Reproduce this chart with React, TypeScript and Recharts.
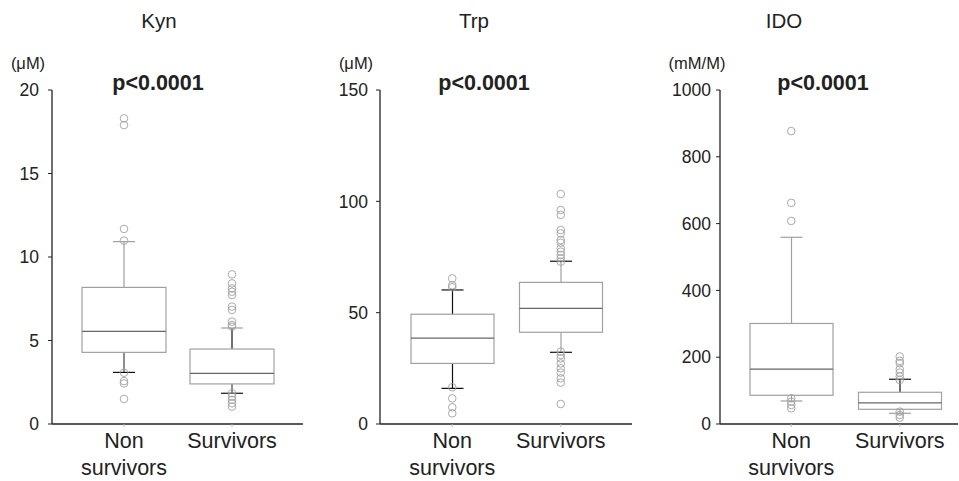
import { Bar, ComposedChart, Scatter, XAxis, YAxis } from 'recharts'

const groups = ['Non survivors', 'Survivors']

// [Q1, median, Q3] per group
const kynQuartiles = [[4.29, 5.55, 8.18], [2.4, 3.03, 4.49]]
const kynWhiskers = [[3.09, 10.92], [1.84, 5.75]]
const kynOutliers = [
  [18.3, 17.9, 11.68, 10.98, 3.07, 2.57, 2.43, 1.5],
  [8.96, 8.42, 8.12, 7.92, 7.72, 7.03, 6.83, 6.13, 5.93, 5.83, 1.84, 1.64, 1.44, 1.24, 1.04],
]
const kynTicks = [0, 5, 10, 15, 20]

const trpQuartiles = [[27.2, 38.6, 49.3], [41.2, 51.9, 63.6]]
const trpWhiskers = [[16.0, 60.2], [32.2, 73.1]]
const trpOutliers = [
  [65.4, 62.3, 61.4, 16.5, 11.5, 7.5, 4.8],
  [103.3, 96.1, 93.9, 87.1, 85.6, 82.6, 81.4, 78.9, 77.4, 75.9, 74.4, 72.9,
    32.5, 31.0, 29.5, 27.2, 25.0, 23.1, 20.5, 18.6, 9.0],
]
const trpTicks = [0, 50, 100, 150]

const idoQuartiles = [[86, 164, 301], [44, 63, 95]]
const idoWhiskers = [[69, 559], [32, 134]]
const idoOutliers = [
  [877, 662, 608, 77, 67, 57, 47],
  [202, 189, 182, 164, 154, 142, 132, 37, 27, 19],
]
const idoTicks = [0, 200, 400, 600, 800, 1000]

const FONT = '"Liberation Sans", Arial, sans-serif'
const INK = '#222'
const GREY = '#a0a0a0'

function boxRows(quartiles: number[][], whiskers: number[][]) {
  return groups.map((cat, i) => ({
    cat,
    q1: quartiles[i][0],
    med: quartiles[i][1],
    q3: quartiles[i][2],
    lo: whiskers[i][0],
    hi: whiskers[i][1],
  }))
}

function outlierRows(outliers: number[][]) {
  return outliers.flatMap((vals, i) => vals.map((value) => ({ cat: groups[i], value })))
}

// whisker colours as printed: [upper stem, upper cap, lower stem, lower cap]
type WhiskerInk = [string, string, string, string]

function makeBoxShape(inks: WhiskerInk[]) {
  return function BoxShape(props: any) {
    const { x, y, width, height, payload, index } = props
    const top = Math.min(y, y + height)
    const bottom = Math.max(y, y + height)
    const { lo, hi, q1, med, q3 } = payload
    const py = (v: number) => bottom - ((v - lo) / (hi - lo)) * (bottom - top)
    const cx = x + width / 2
    const cap = 11
    const ink = inks[index] ?? [GREY, GREY, GREY, GREY]
    return (
      <g>
        <line x1={cx} x2={cx} y1={py(hi)} y2={py(q3)} stroke={ink[0]} strokeWidth={1.2} />
        <line x1={cx - cap} x2={cx + cap} y1={py(hi)} y2={py(hi)} stroke={ink[1]} strokeWidth={1.2} />
        <line x1={cx} x2={cx} y1={py(q1)} y2={py(lo)} stroke={ink[2]} strokeWidth={1.2} />
        <line x1={cx - cap} x2={cx + cap} y1={py(lo)} y2={py(lo)} stroke={ink[3]} strokeWidth={1.2} />
        <rect x={x} y={py(q3)} width={width} height={py(q1) - py(q3)} fill="#fff" stroke={GREY} strokeWidth={1.2} />
        <line x1={x} x2={x + width} y1={py(med)} y2={py(med)} stroke="#666" strokeWidth={1.2} />
      </g>
    )
  }
}

function Outlier(props: any) {
  const { cx, cy } = props
  return <circle cx={cx} cy={cy} r={3.8} fill="none" stroke={GREY} strokeWidth={0.9} />
}

function GroupTick(props: any) {
  const { x, y, payload } = props
  const words = String(payload.value).split(' ')
  return (
    <g transform={`translate(${x},${y})`}>
      {words.map((w, i) => (
        <text key={w} x={0} y={19 + i * 27} textAnchor="middle" fill={INK} fontSize={21.5} fontFamily={FONT}>
          {w}
        </text>
      ))}
    </g>
  )
}

interface PanelProps {
  left: number
  width: number
  axisX: number
  axisEnd: number
  padLeft: number
  padRight: number
  barSize: number
  tickMargin: number
  ticks: number[]
  quartiles: number[][]
  whiskers: number[][]
  outliers: number[][]
  inks: WhiskerInk[]
}

function Panel(p: PanelProps) {
  const rows = boxRows(p.quartiles, p.whiskers)
  const points = outlierRows(p.outliers)
  const yMax = p.ticks[p.ticks.length - 1]
  return (
    <div style={{ position: 'absolute', left: p.left, top: 0 }}>
      <ComposedChart
        width={p.width}
        height={481}
        data={rows}
        margin={{ top: 90, right: p.width - (p.axisEnd - p.left), bottom: 0, left: 0 }}
      >
        <XAxis
          dataKey="cat"
          type="category"
          allowDuplicatedCategory={false}
          height={57}
          padding={{ left: p.padLeft, right: p.padRight }}
          axisLine={{ stroke: INK, strokeWidth: 1.3 }}
          tickLine={{ stroke: '#bbb' }}
          tickSize={3}
          tick={<GroupTick />}
        />
        <YAxis
          type="number"
          domain={[0, yMax]}
          ticks={p.ticks}
          width={p.axisX - p.left}
          axisLine={{ stroke: INK, strokeWidth: 1.3 }}
          tickLine={{ stroke: INK }}
          tickSize={4}
          tickMargin={p.tickMargin}
          tick={{ fill: INK, fontSize: 17.5, fontFamily: FONT }}
        />
        <Bar
          dataKey={(d: any) => [d.lo, d.hi]}
          barSize={p.barSize}
          shape={makeBoxShape(p.inks)}
          isAnimationActive={false}
        />
        <Scatter data={points} dataKey="value" shape={<Outlier />} isAnimationActive={false} />
      </ComposedChart>
    </div>
  )
}

const BLACK = '#111'

export default function App() {
  return (
    <div style={{ position: 'absolute', left: 0, top: 0, width: 959, height: 481, background: '#fff', fontFamily: FONT }}>
      <Panel
        left={0}
        width={320}
        axisX={52}
        axisEnd={303}
        padLeft={18}
        padRight={17}
        barSize={84}
        tickMargin={9}
        ticks={kynTicks}
        quartiles={kynQuartiles}
        whiskers={kynWhiskers}
        outliers={kynOutliers}
        inks={[
          [GREY, GREY, '#444', BLACK],
          [BLACK, GREY, '#444', BLACK],
        ]}
      />
      <Panel
        left={320}
        width={320}
        axisX={380}
        axisEnd={632}
        padLeft={18}
        padRight={17}
        barSize={83}
        tickMargin={8}
        ticks={trpTicks}
        quartiles={trpQuartiles}
        whiskers={trpWhiskers}
        outliers={trpOutliers}
        inks={[
          [BLACK, BLACK, BLACK, BLACK],
          [GREY, BLACK, GREY, BLACK],
        ]}
      />
      <Panel
        left={640}
        width={319}
        axisX={720}
        axisEnd={958}
        padLeft={17}
        padRight={4}
        barSize={83}
        tickMargin={5}
        ticks={idoTicks}
        quartiles={idoQuartiles}
        whiskers={idoWhiskers}
        outliers={idoOutliers}
        inks={[
          [GREY, GREY, GREY, GREY],
          [BLACK, BLACK, GREY, GREY],
        ]}
      />
      <svg width={959} height={481} style={{ position: 'absolute', left: 0, top: 0, pointerEvents: 'none' }}>
        <g fontFamily={FONT} fill={INK}>
          <text x={159} y={28} textAnchor="middle" fontSize={20.5}>Kyn</text>
          <text x={474} y={28} textAnchor="middle" fontSize={20.5}>Trp</text>
          <text x={784} y={28} textAnchor="middle" fontSize={20.5}>IDO</text>
          <text x={28} y={69} textAnchor="middle" fontSize={16.5}>(μM)</text>
          <text x={356} y={69} textAnchor="middle" fontSize={16.5}>(μM)</text>
          <text x={697} y={69} textAnchor="middle" fontSize={16.5}>(mM/M)</text>
          <text x={158} y={90} textAnchor="middle" fontSize={21.5} fontWeight="bold">p&lt;0.0001</text>
          <text x={484} y={90} textAnchor="middle" fontSize={21.5} fontWeight="bold">p&lt;0.0001</text>
          <text x={823} y={90} textAnchor="middle" fontSize={21.5} fontWeight="bold">p&lt;0.0001</text>
        </g>
      </svg>
    </div>
  )
}
